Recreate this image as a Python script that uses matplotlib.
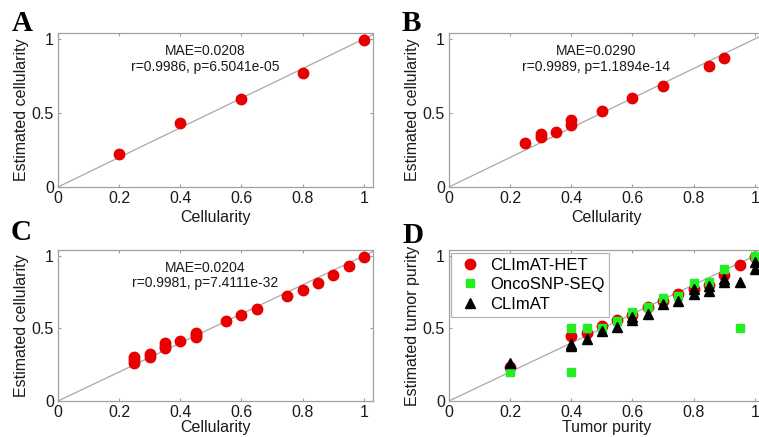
import matplotlib
matplotlib.use('Agg')
import matplotlib.pyplot as plt

plt.rcParams['font.family'] = ['Liberation Sans', 'DejaVu Sans']

# panel A
a_x = [0.2, 0.4, 0.6, 0.8, 1.0]
a_y = [0.224, 0.432, 0.597, 0.772, 0.99]

# panel B
b_x = [0.25, 0.30, 0.30, 0.35, 0.40, 0.40, 0.50, 0.60, 0.70, 0.85, 0.90]
b_y = [0.30, 0.36, 0.34, 0.37, 0.45, 0.42, 0.51, 0.60, 0.685, 0.82, 0.87]

# panel C
c_x = [0.25, 0.25, 0.25, 0.30, 0.30, 0.35, 0.35, 0.35, 0.40, 0.45, 0.45, 0.45,
       0.55, 0.60, 0.65, 0.75, 0.80, 0.85, 0.90, 0.95, 1.00]
c_y = [0.30, 0.285, 0.26, 0.323, 0.305, 0.397, 0.38, 0.368, 0.41, 0.47, 0.455, 0.442,
       0.549, 0.589, 0.632, 0.722, 0.767, 0.813, 0.865, 0.932, 0.99]

# panel D: three methods on tumour purity
d_het_x = [0.2, 0.4, 0.45, 0.5, 0.55, 0.6, 0.65, 0.7, 0.75, 0.8, 0.85, 0.9, 0.95, 1.0]
d_het_y = [0.236, 0.445, 0.47, 0.52, 0.56, 0.59, 0.645, 0.69, 0.735, 0.77, 0.80, 0.87, 0.94, 0.99]

d_onco_x = [0.2, 0.4, 0.4, 0.45, 0.5, 0.55, 0.6, 0.65, 0.7, 0.75, 0.8, 0.85, 0.9, 0.95, 1.0]
d_onco_y = [0.20, 0.50, 0.20, 0.50, 0.50, 0.55, 0.61, 0.65, 0.71, 0.72, 0.81, 0.82, 0.91, 0.50, 1.0]

d_clim_x = [0.2, 0.4, 0.4, 0.45, 0.5, 0.55, 0.6, 0.6, 0.65, 0.7, 0.75, 0.8, 0.8,
            0.85, 0.85, 0.9, 0.9, 0.95, 1.0, 1.0]
d_clim_y = [0.26, 0.39, 0.38, 0.43, 0.48, 0.51, 0.56, 0.58, 0.60, 0.665, 0.69, 0.735, 0.77,
            0.755, 0.79, 0.82, 0.84, 0.82, 0.96, 0.91]

stats = {
    'A': 'MAE=0.0208\nr=0.9986, p=6.5041e-05',
    'B': 'MAE=0.0290\nr=0.9989, p=1.1894e-14',
    'C': 'MAE=0.0204\nr=0.9981, p=7.4111e-32',
}

W, H = 759, 437
fig = plt.figure(figsize=(W / 100, H / 100), dpi=100)

grey = '#a0a0a0'
red = '#e80000'
green = '#22ee22'
ink = '#1a1a1a'


def make_axes(left, top, bottom):
    ax = fig.add_axes([left / W, 1 - bottom / H, 315 / W, (bottom - top) / H])
    ax.set_xlim(0, 1.03)
    ax.set_ylim(0, 1.04)
    ax.plot([0, 1.2], [0, 1.2], color='#a8a8a8', lw=0.9, zorder=1)
    ax.set_xticks([0, 0.2, 0.4, 0.6, 0.8, 1])
    ax.set_xticklabels(['0', '0.2', '0.4', '0.6', '0.8', '1'])
    ax.set_yticks([0, 0.5, 1])
    ax.set_yticklabels(['0', '0.5', '1'])
    ax.tick_params(direction='in', length=2.5, width=0.8, color=grey,
                   top=True, right=True, labelsize=11.5, labelcolor=ink, pad=3)
    for s in ax.spines.values():
        s.set_color(grey)
        s.set_linewidth(0.9)
    return ax


axA = make_axes(58, 33, 187)
axB = make_axes(449, 33, 187)
axC = make_axes(58, 250, 401)
axD = make_axes(449, 250, 401)

for ax, xs, ys, key in [(axA, a_x, a_y, 'A'), (axB, b_x, b_y, 'B'), (axC, c_x, c_y, 'C')]:
    ax.plot(xs, ys, 'o', color=red, ms=7.5, mec=red, zorder=3)
    ax.text(0.48, 0.865, stats[key], ha='center', va='center', fontsize=10,
            color=ink, linespacing=1.15)
    ax.set_ylabel('Estimated cellularity', fontsize=11.5, labelpad=2, color=ink)

axA.set_xlabel('Cellularity', fontsize=11.5, labelpad=3, color=ink)
axB.set_xlabel('Cellularity', fontsize=11.5, labelpad=3, color=ink)
axC.set_xlabel('Cellularity', fontsize=11.5, labelpad=0, color=ink)

axD.plot(d_het_x, d_het_y, 'o', color=red, ms=7.5, mec=red, label='CLImAT-HET', zorder=3)
axD.plot(d_onco_x, d_onco_y, 's', color=green, ms=6, mec=green, label='OncoSNP-SEQ', zorder=3)
axD.plot(d_clim_x, d_clim_y, '^', color='black', ms=7, label='CLImAT', zorder=4)
axD.set_xlabel('Tumor purity', fontsize=11.5, labelpad=0, color=ink)
axD.set_ylabel('Estimated tumor purity', fontsize=11.5, labelpad=2, color=ink)
leg = axD.legend(loc='upper left', fontsize=12, frameon=True, fancybox=False,
                 borderaxespad=0.15, handletextpad=0.4, labelspacing=0.28,
                 borderpad=0.3, handlelength=1.6)
leg.get_frame().set_edgecolor(grey)
leg.get_frame().set_linewidth(0.9)

# panel letters
for letter, x, y in [('A', 12, 31), ('B', 402, 31), ('C', 11, 240), ('D', 402, 243)]:
    fig.text(x / W, 1 - y / H, letter, fontsize=21, fontweight='bold',
             family='Liberation Serif', ha='left', va='baseline')

fig.savefig('out.png', dpi=100)
